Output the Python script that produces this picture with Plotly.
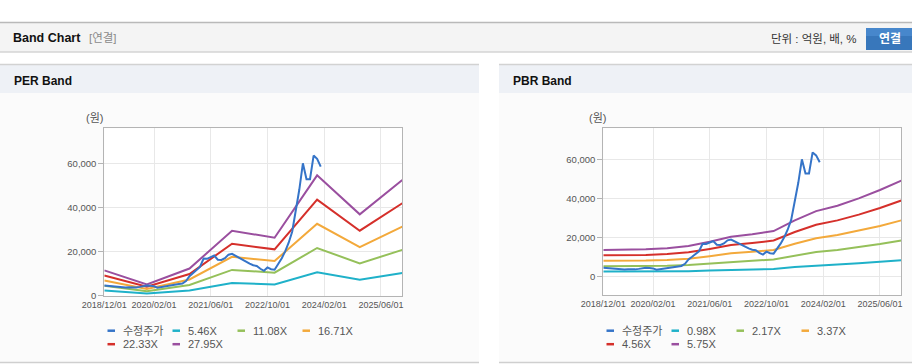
import plotly.graph_objects as go
import pandas as pd

# ---------------- data ----------------
price_dates = pd.date_range("2018-12-01", "2024-01-01", freq="MS").strftime("%Y-%m-%d").tolist()
price_values = [4600, 4400, 4200, 4000, 3800, 3750, 3700, 3800, 3700, 3750, 4000, 4300,
                4600, 4500, 4250, 3600, 3900, 4300, 4700, 4900, 5100, 5300, 5500, 6600,
                8800, 10200, 11500, 13000, 16800, 16700, 17500, 18200, 16300, 16200, 17000, 18600,
                19000, 18000, 17000, 16200, 15300, 14500, 13800, 13500, 12200, 11300, 12800, 12000,
                11800, 14200, 17000, 20000, 24000, 29000, 38000, 48000, 60000, 52800, 52800, 63500,
                62000, 58500]

per_dates = ["2018-12-01", "2019-12-01", "2020-12-01", "2021-12-01",
             "2022-12-01", "2023-12-01", "2024-12-01", "2025-12-01"]
per_546 = [2300, 1000, 2400, 5750, 5130, 10650, 7190, 10240]
per_1108 = [4550, 2040, 4880, 11680, 10420, 21620, 14610, 20780]
per_1671 = [6860, 3070, 7350, 17610, 15710, 32600, 22040, 31340]
per_2233 = [9170, 4110, 9830, 23540, 21000, 43560, 29450, 41880]
per_2795 = [11480, 5140, 12300, 29460, 26280, 54530, 36860, 52420]
per_names = ["5.46X", "11.08X", "16.71X", "22.33X", "27.95X"]

pbr_dates = ["2018-12-01", "2019-06-01", "2019-12-01", "2020-06-01", "2020-12-01",
             "2021-06-01", "2021-12-01", "2022-06-01", "2022-12-01", "2023-06-01",
             "2023-12-01", "2024-06-01", "2024-12-01", "2025-06-01", "2025-12-01"]
pbr_098 = [2600, 2600, 2650, 2700, 2850, 3150, 3500, 3700, 3970, 4900, 5700, 6190, 6820, 7550, 8370]
pbr_217 = [5300, 5300, 5400, 5600, 5950, 6760, 7700, 8190, 8790, 10870, 12640, 13700, 15100, 16720, 18530]
pbr_337 = [8150, 8150, 8250, 8600, 9200, 10490, 11960, 12720, 13660, 16880, 19630, 21280, 23440, 25960, 28780]
pbr_456 = [10950, 10950, 11100, 11580, 12450, 14200, 16180, 17210, 18480, 22840, 26570, 28790, 31720, 35130, 38940]
pbr_575 = [13650, 13650, 14000, 14600, 15700, 17900, 20400, 21700, 23300, 28800, 33500, 36300, 40000, 44300, 49100]
pbr_names = ["0.98X", "2.17X", "3.37X", "4.56X", "5.75X"]

price_name = "수정주가"
tick_dates = ["2018-12-01", "2020-02-01", "2021-06-01", "2022-10-01", "2024-02-01", "2025-06-01"]
tick_labels = ["2018/12/01", "2020/02/01", "2021/06/01", "2022/10/01", "2024/02/01", "2025/06/01"]
y_ticks = [0, 20000, 40000, 60000]
y_tick_labels = ["0", "20,000", "40,000", "60,000"]

# ---------------- styling ----------------
W, H = 912, 364
band_colors = ["#1fb1c9", "#95c05a", "#f3a93b", "#d5302b", "#9a4f9f"]
price_color = "#3574c8"
FONT = "Liberation Sans, Noto Sans CJK KR, sans-serif"


def X(p):
    return p / W


def Y(p):
    return 1 - p / H


fig = go.Figure()

per_series = [per_546, per_1108, per_1671, per_2233, per_2795]
pbr_series = [pbr_098, pbr_217, pbr_337, pbr_456, pbr_575]

for name, vals, col in zip(per_names, per_series, band_colors):
    fig.add_trace(go.Scatter(x=per_dates, y=vals, name=name, mode="lines",
                             line=dict(color=col, width=2), xaxis="x", yaxis="y"))
fig.add_trace(go.Scatter(x=price_dates, y=price_values, name=price_name, mode="lines",
                         line=dict(color=price_color, width=2), xaxis="x", yaxis="y"))

for name, vals, col in zip(pbr_names, pbr_series, band_colors):
    fig.add_trace(go.Scatter(x=pbr_dates, y=vals, name=name, mode="lines",
                             line=dict(color=col, width=2), xaxis="x2", yaxis="y2"))
fig.add_trace(go.Scatter(x=price_dates, y=price_values, name=price_name, mode="lines",
                         line=dict(color=price_color, width=2), xaxis="x2", yaxis="y2"))

xaxis_common = dict(type="date", range=["2018-12-01", "2025-12-01"], tickvals=tick_dates,
                    ticktext=tick_labels, showgrid=True, gridcolor="#e8e8e8", gridwidth=1,
                    showline=True, mirror=True, linecolor="#b4b4b4", linewidth=1,
                    ticks="", tickfont=dict(family=FONT, size=9, color="#555"),
                    zeroline=False, fixedrange=True, automargin=False)
yaxis_common = dict(tickvals=y_ticks, ticktext=y_tick_labels, showgrid=True, gridcolor="#e8e8e8",
                    gridwidth=1, showline=True, mirror=True, linecolor="#b4b4b4", linewidth=1,
                    ticks="outside", ticklen=5, tickcolor="#b4b4b4",
                    tickfont=dict(family=FONT, size=9.5, color="#555"), zeroline=False,
                    fixedrange=True, automargin=False)

fig.update_layout(
    width=W, height=H, margin=dict(l=0, r=0, t=0, b=0, autoexpand=False),
    paper_bgcolor="white", plot_bgcolor="white", showlegend=False,
    xaxis=dict(domain=[X(104.3), X(402.3)], anchor="y", **xaxis_common),
    yaxis=dict(domain=[Y(295.7), Y(128.3)], anchor="x", range=[0, 75860], **yaxis_common),
    xaxis2=dict(domain=[X(603.3), X(901.3)], anchor="y2", **xaxis_common),
    yaxis2=dict(domain=[Y(295.0), Y(128.3)], anchor="x2", range=[-9350, 75840], **yaxis_common),
)

shapes = []
ann = []


def rect(x0, y0, x1, y1, fill, line=None, lw=0):
    shapes.append(dict(type="rect", xref="paper", yref="paper", x0=X(x0), x1=X(x1),
                       y0=Y(y1), y1=Y(y0), fillcolor=fill, layer="below",
                       line=dict(width=lw, color=line or fill)))


def hline(x0, x1, y, color, w=1, layer="below"):
    shapes.append(dict(type="line", xref="paper", yref="paper", x0=X(x0), x1=X(x1),
                       y0=Y(y), y1=Y(y), layer=layer, line=dict(color=color, width=w)))


def text(x, y, s, size=12, color="#333", xanchor="left", bold=False, family=FONT):
    ann.append(dict(xref="paper", yref="paper", x=X(x), y=Y(y), text=("<b>%s</b>" % s) if bold else s,
                    showarrow=False, xanchor=xanchor, yanchor="middle",
                    font=dict(family=family, size=size, color=color)))


# header bar
rect(0, 22, 912, 52, "#f4f4f4")
hline(0, 912, 22.5, "#b9b9b9", 1.5)
hline(0, 912, 52, "#d4d4d4", 1.5)
text(11, 38.5, "Band Chart", 12.5, "#111", bold=True)
text(87, 38.5, "[연결]", 11.5, "#8a8a8a")
text(859, 38.5, "단위 : 억원, 배, %", 11.5, "#333", xanchor="right")
rect(866, 28, 914, 50, "#3877bb")
rect(866, 28, 914, 36, "#4787cc")
text(890, 39, "연결", 12, "white", xanchor="center", bold=True)

# panels
for px0, px1, title in [(0, 479, "PER Band"), (499, 912, "PBR Band")]:
    rect(px0, 64, px1, 93, "#eef1f6")
    rect(px0, 93, px1, 362, "#fbfbfb")
    hline(px0, px1, 64.5, "#d2d2d2", 1.5)
    hline(px0, px1, 362.5, "#cfcfcf", 1.5)
    text(px0 + 11.5, 80.5, title, 12, "#111", bold=True)

# plot area backgrounds
rect(104.3, 128.3, 402.3, 295.7, "white")
rect(603.3, 128.3, 901.3, 295.0, "white")

# unit labels
text(84, 118.5, "(원)", 11, "#555")
text(587, 118.5, "(원)", 11, "#555")

# manual legends
for base, names in [(0, per_names), (499, pbr_names)]:
    items = [(price_name, price_color)] + list(zip(names, band_colors))
    for i, (nm, col) in enumerate(items):
        cx = base + 121 + 65 * (i % 4)
        cy = 330.7 + 13.5 * (i // 4)
        hline(cx - 13.5, cx - 6, cy, col, 2.5, layer="above")
        text(cx, cy, nm, 11, "#555")

fig.update_layout(shapes=shapes, annotations=ann)
fig.write_html("out.html", config={"displayModeBar": False},
               post_script="document.body.style.margin='0';document.body.style.overflow='hidden';")
